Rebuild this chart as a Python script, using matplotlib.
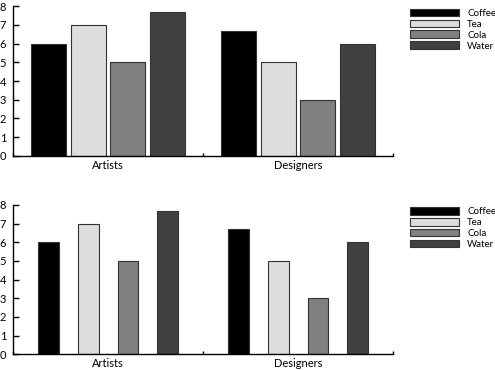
import numpy as np
import matplotlib.pyplot as plt

plt.rcParams['font.family'] = ['Lato', 'DejaVu Sans']

groups = ['Artists', 'Designers']
drinks = ['Coffee', 'Tea', 'Cola', 'Water']
coffee = [6.0, 6.7]
tea = [7.0, 5.0]
cola = [5.0, 3.0]
water = [7.7, 6.0]
colors = ['#000000', '#dddddd', '#808080', '#404040']

series = [coffee, tea, cola, water]
x = np.arange(len(groups))
step = 0.21
offsets = (np.arange(len(drinks)) - 1.5) * step

fig = plt.figure(figsize=(4.95, 3.7), dpi=100)
ax_top = fig.add_axes([0.0263, 0.579, 0.7677, 0.404])
ax_bot = fig.add_axes([0.0263, 0.0424, 0.7677, 0.4036])


def draw(ax, width):
    for vals, off, c, name in zip(series, offsets, colors, drinks):
        ax.bar(x + off, vals, width, color=c, edgecolor='#333333',
               linewidth=0.8, label=name)
    ax.set_xlim(-0.5, 1.5)
    ax.set_ylim(0, 8)
    ax.set_yticks(range(0, 9))
    ax.set_xticks(x)
    ax.set_xticklabels(groups)
    ax.set_xticks([-0.5, 0.5, 1.5], minor=True)
    ax.spines['top'].set_visible(False)
    ax.spines['right'].set_visible(False)
    ax.spines['left'].set_linewidth(1.0)
    ax.spines['bottom'].set_linewidth(1.0)
    ax.tick_params(axis='y', direction='in', length=4.3, width=1.0,
                   pad=5, labelsize=8)
    ax.tick_params(axis='x', which='major', length=0, pad=3, labelsize=8)
    ax.tick_params(axis='x', which='minor', direction='in', length=2.2,
                   width=1.0)
    ax.legend(loc='upper left', bbox_to_anchor=(1.045, 0.985), frameon=False,
              fontsize=7, handlelength=5.05, handleheight=0.78,
              labelspacing=0.2, handletextpad=0.8, borderaxespad=0,
              borderpad=0)


draw(ax_top, 0.184)
draw(ax_bot, 0.11)

fig.savefig('out.png', dpi=100)
